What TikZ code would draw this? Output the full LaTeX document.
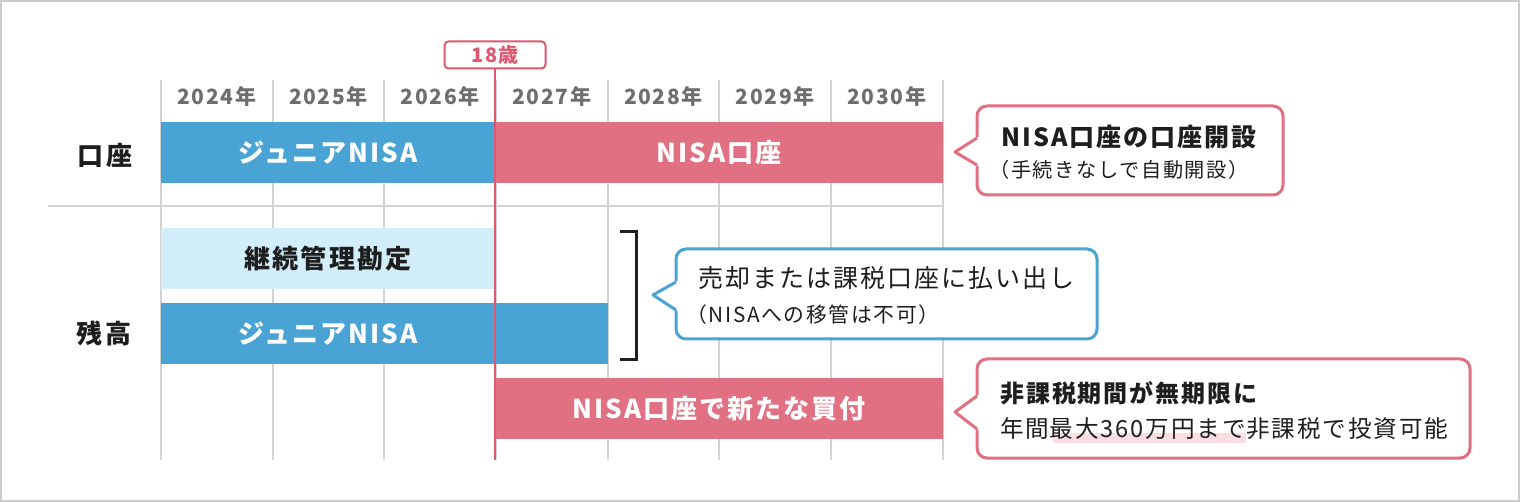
\documentclass[tikz,border=0pt]{standalone}
\usepackage{fontspec}
\setmainfont{Noto Sans CJK JP}[LetterSpace=8]
\usetikzlibrary{backgrounds}
\pgfdeclarelayer{boxes}
\pgfdeclarelayer{hilite}
\pgfsetlayers{boxes,hilite,main}
\definecolor{jblue}{RGB}{74,163,213}
\definecolor{jlight}{RGB}{210,238,250}
\definecolor{jpink}{RGB}{224,112,130}
\definecolor{agered}{RGB}{222,88,112}
\definecolor{gridc}{RGB}{210,210,210}
\definecolor{framec}{RGB}{204,204,204}
\definecolor{yearc}{RGB}{110,110,110}
\definecolor{inkc}{RGB}{30,30,30}
\definecolor{hlc}{RGB}{250,222,228}
\newcommand{\fs}[1]{\fontsize{#1pt}{#1pt}\selectfont}
\tikzset{
  gridline/.style={draw=gridc, line width=1.8pt},
  yearlbl/.style={text=yearc, font=\fs{21}\bfseries, inner sep=0},
  rowlbl/.style={text=inkc, font=\fs{26}\bfseries, inner sep=0},
  bar/.style={minimum height=61pt, inner sep=0, font=\fs{26}\bfseries, text=white},
  bluebar/.style={bar, fill=jblue},
  pinkbar/.style={bar, fill=jpink},
  lightbar/.style={bar, fill=jlight, text=inkc},
  barlbl/.style={inner sep=0, font=\fs{26}\bfseries, text=white},
  calloutbox/.style={draw=#1, line width=3pt, rounded corners=10pt, fill=white, inner sep=0},
  callptr/.style={draw=#1, line width=3pt, line join=round},
  ctxt/.style={anchor=west, inner sep=0, text=inkc},
  agebox/.style={draw=agered, line width=2pt, rounded corners=4pt, fill=white, text=agered,
    font=\fs{20}\bfseries, minimum width=101pt, minimum height=27pt, inner sep=0},
}
\begin{document}
\begin{tikzpicture}[x=1pt,y=-1pt]
\begin{pgfonlayer}{boxes}
\useasboundingbox (0,0) rectangle (1520,502);
\fill[white] (0,0) rectangle (1520,502);
\draw[framec, line width=2pt] (1,1) rectangle (1519,501);
\end{pgfonlayer}

% grid
\foreach \i in {0,...,7} {
  \draw[gridline] ({161+\i*111.67},80) -- ({161+\i*111.67},460);
}
\draw[gridline] (48,206) -- (943,206);

% years
\foreach \yr [count=\i from 0] in {2024,2025,2026,2027,2028,2029,2030} {
  \node[yearlbl] (y\yr) at ({216.8+\i*111.67},96) {\yr 年};
}

% row labels
\node[rowlbl] (lblkoza) at (105,155) {口座};
\node[rowlbl] (lblzan) at (104,333) {残高};

% bars
\node[bluebar, minimum width=334pt] (jr1) at (328,152.5) {ジュニアNISA};
\node[pinkbar, minimum width=448pt] (nisa1) at (719,152.5) {NISA口座};
\node[lightbar, minimum width=334pt] (keizoku) at (328,258.5) {継続管理勘定};
\node[bluebar, minimum width=447pt] (jr2) at (384.5,333.5) {};
\node[barlbl] (jr2txt) at (jr1.center |- jr2.center) {ジュニアNISA};
\node[pinkbar, minimum width=448pt] (nisa2) at (719,408.5) {NISA口座で新たな買付};

% 18 age marker
\node[agebox] (age) at (495,55) {18歳};
\coordinate (ageend) at (495,460);
\draw[agered, line width=2pt] (age.south) -- (ageend);

% bracket
\coordinate (bra) at (620,232);
\coordinate (brb) at (636,232);
\coordinate (brc) at (636,360);
\coordinate (brd) at (620,360);
\draw[inkc, line width=3pt, line join=miter] (bra) -- (brb) -- (brc) -- (brd);

% callout 1
\node[calloutbox=jpink, minimum width=306pt, minimum height=89pt] (c1) at (1130,150.5) {};
\coordinate (c1tip) at (955,152);
\fill[white] (980,136) -- (c1tip) -- (980,167) -- cycle;
\draw[callptr=jpink] (977,138) -- (c1tip) -- (977,165);
\node[ctxt, font=\fs{25}\bfseries] (c1a) at (1001,137) {NISA口座の口座開設};
\node[ctxt, font=\fs{20.2}] (c1b) at (989,170) {（手続きなしで自動開設）};

% callout 2
\node[calloutbox=jblue, minimum width=421pt, minimum height=90pt] (c2) at (886.5,294) {};
\coordinate (c2tip) at (653,295);
\fill[white] (679,280) -- (c2tip) -- (679,312) -- cycle;
\draw[callptr=jblue] (676,282) -- (c2tip) -- (676,310);
\node[ctxt, font=\fs{25}] (c2a) at (698,278) {売却または課税口座に払い出し};
\node[ctxt, font=\fs{20.8}] (c2b) at (686,315) {（NISAへの移管は不可）};

% callout 3
\begin{pgfonlayer}{boxes}
\node[calloutbox=jpink, minimum width=493pt, minimum height=99pt] (c3) at (1223.5,408.5) {};
\coordinate (c3tip) at (955,412);
\fill[white] (980,394) -- (c3tip) -- (980,431) -- cycle;
\draw[callptr=jpink] (977,396) -- (c3tip) -- (977,429);
\end{pgfonlayer}
\node[ctxt, font=\fs{24}\bfseries] (c3a) at (1000,393) {非課税期間が無期限に};
\node[ctxt, font=\fs{23.6}] (c3b) at (1000,428) {年間};
\node[anchor=base west, inner sep=0, text=inkc, font=\fs{23.6}] (c3c) at (c3b.base east) {最大360万円まで};
\node[anchor=base west, inner sep=0, text=inkc, font=\fs{23.6}] (c3d) at (c3c.base east) {非課税で投資可能};
\begin{pgfonlayer}{hilite}
  \fill[hlc] ([yshift=4pt,xshift=3pt]c3c.base west) rectangle ([yshift=-6pt]c3c.base east);
\end{pgfonlayer}
\end{tikzpicture}
\end{document}
